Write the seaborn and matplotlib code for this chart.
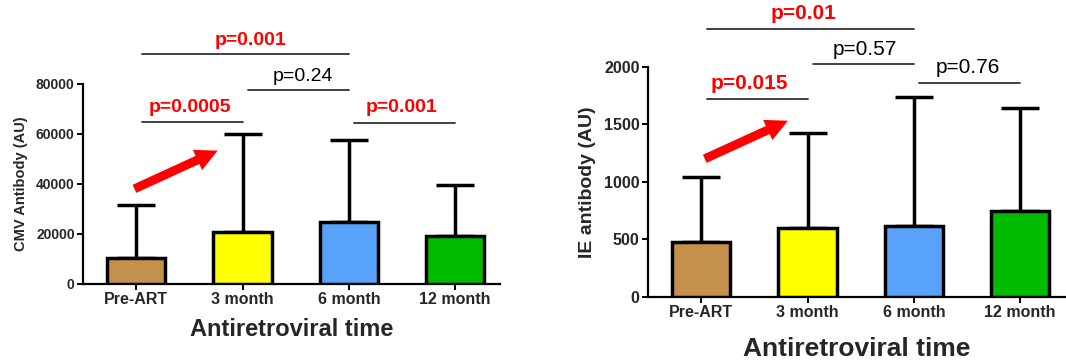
import matplotlib
matplotlib.use("Agg")
import matplotlib.pyplot as plt
import pandas as pd
import seaborn as sns
from matplotlib import font_manager

categories = ["Pre-ART", "3 month", "6 month", "12 month"]
bar_colors = ["#C4914D", "#FFFF00", "#58A2FA", "#00BB00"]

cmv_mean = [10200, 20900, 24700, 19200]
cmv_sd = [21300, 39100, 32800, 20300]

ie_mean = [473, 595, 615, 745]
ie_sd = [570, 826, 1119, 896]

# comparisons: (from, to, label, significant)
cmv_pairs = [(0, 1, "p=0.0005", True), (1, 2, "p=0.24", False),
             (2, 3, "p=0.001", True), (0, 2, "p=0.001", True)]
ie_pairs = [(0, 1, "p=0.015", True), (1, 2, "p=0.57", False),
            (2, 3, "p=0.76", False), (0, 2, "p=0.01", True)]


def _has_font(name):
    return any(f.name == name for f in font_manager.fontManager.ttflist)


sns.set_theme(style="white")
plt.rcParams["font.family"] = ["Liberation Sans", "DejaVu Sans"]
narrow = "Liberation Sans Narrow" if _has_font("Liberation Sans Narrow") else "Liberation Sans"


def draw_panel(ax, means, sds, ymax, step, ylabel, ylabel_kw, xlabel_kw,
               ytick_size, xtick_size, pairs, bracket_y, text_y, arrow, p_size):
    df = pd.DataFrame({"time": categories, "value": means})
    sns.barplot(data=df, x="time", y="value", hue="time", palette=bar_colors,
                order=categories, hue_order=categories, legend=False,
                saturation=1, width=0.55, edgecolor="black", linewidth=2.5,
                errorbar=None, ax=ax, zorder=3)
    ax.errorbar(range(len(categories)), means, yerr=[[0] * len(sds), sds],
                fmt="none", ecolor="black", elinewidth=2.5, capsize=14,
                capthick=2.5, zorder=2)
    ax.set_ylim(0, ymax)
    ax.set_xlim(-0.5, 3.42)
    ax.set_yticks(range(0, ymax + 1, step))
    ax.set_ylabel(ylabel, **ylabel_kw)
    ax.set_xlabel("Antiretroviral time", **xlabel_kw)
    for s in ["top", "right"]:
        ax.spines[s].set_visible(False)
    for s in ["left", "bottom"]:
        ax.spines[s].set_color("black")
        ax.spines[s].set_linewidth(1.6)
    ax.tick_params(axis="both", which="both", direction="out", length=4,
                   width=1.4, color="black", pad=2, left=True, bottom=True)
    ax.tick_params(axis="y", labelsize=ytick_size)
    ax.tick_params(axis="x", labelsize=xtick_size)
    for lab in ax.get_xticklabels() + ax.get_yticklabels():
        lab.set_fontweight("bold")
    for (i, j, label, sig), by, (tx, ty) in zip(pairs, bracket_y, text_y):
        ax.plot([i + 0.05, j], [by, by], color="#333333", lw=1.3,
                clip_on=False, zorder=4)
        ax.text(tx, ty, label, ha="center", va="center",
                color="red" if sig else "black",
                fontweight="bold" if sig else "normal",
                fontsize=p_size, clip_on=False)
    (x0, y0), (x1, y1) = arrow
    ax.annotate("", xy=(x1, y1), xytext=(x0, y0),
                arrowprops=dict(arrowstyle="simple,head_width=1.0,head_length=1.0,tail_width=0.4",
                                color="red", mutation_scale=16, lw=0))


fig = plt.figure(figsize=(10.66, 3.62), dpi=100)
ax1 = fig.add_axes([0.0779, 0.2155, 0.391, 0.5525])
ax2 = fig.add_axes([0.6079, 0.1804, 0.391, 0.6354])

draw_panel(ax1, cmv_mean, cmv_sd, 80000, 20000, "CMV Antibody (AU)",
           dict(fontsize=10.5, fontweight="bold", family=narrow, labelpad=6),
           dict(fontsize=17, fontweight="bold", labelpad=8),
           10, 11.5, cmv_pairs,
           [64900, 77700, 64500, 91900],
           [(0.51, 70600), (1.57, 83000), (2.5, 70600), (1.08, 97500)],
           ((-0.04, 37600), (0.79, 53800)), 14)

draw_panel(ax2, ie_mean, ie_sd, 2000, 500, "IE antibody (AU)",
           dict(fontsize=14, fontweight="bold", labelpad=6),
           dict(fontsize=19, fontweight="bold", labelpad=12),
           11.5, 11.5, ie_pairs,
           [1719, 2023, 1861, 2325],
           [(0.45, 1850), (1.54, 2150), (2.51, 1990), (0.96, 2460)],
           ((0.01, 1189), (0.84, 1540)), 15)

fig.savefig("out.png", dpi=100)
